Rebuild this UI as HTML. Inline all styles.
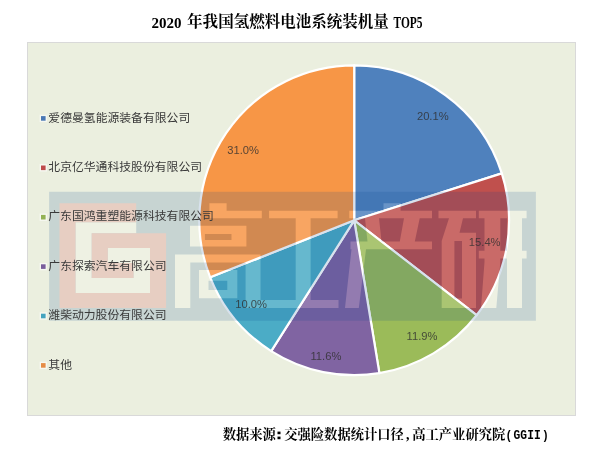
<!DOCTYPE html>
<html lang="zh"><head><meta charset="utf-8"><title>2020年我国氢燃料电池系统装机量TOP5</title>
<style>
html,body{margin:0;padding:0;background:#fff}
body{width:602px;height:456px;position:relative;overflow:hidden;font-family:"Liberation Sans",sans-serif}
</style></head><body>
<svg width="602" height="456" viewBox="0 0 602 456" style="position:absolute;left:0;top:0;will-change:transform"><rect x="27.5" y="42.5" width="548.0" height="373.0" fill="#EBEFDF" stroke="#D9D9D9" stroke-width="1"/>
<g stroke="#fff" stroke-width="2.2" stroke-linejoin="round"><path d="M354.20 220.30L354.20 65.40A154.90 154.90 0 0 1 501.82 173.36Z" fill="#4F81BD"/><path d="M354.20 220.30L501.82 173.36A154.90 154.90 0 0 1 476.60 315.24Z" fill="#C0504D"/><path d="M354.20 220.30L476.60 315.24A154.90 154.90 0 0 1 379.39 373.14Z" fill="#9BBB59"/><path d="M354.20 220.30L379.39 373.14A154.90 154.90 0 0 1 271.20 351.09Z" fill="#8064A2"/><path d="M354.20 220.30L271.20 351.09A154.90 154.90 0 0 1 210.18 277.32Z" fill="#4BACC6"/><path d="M354.20 220.30L210.18 277.32A154.90 154.90 0 0 1 354.20 65.40Z" fill="#F79646"/></g>
<g opacity="0.150"><path d="M49.1 191.7H535.9V320.8H49.1Z" fill="#02428F"/><path d="M75.5 222.2H136.2V233.2H75.5ZM75.5 222.2H91.7V293.0H75.5ZM75.5 278.0H150.0V293.0H75.5ZM133.5 263.1H150.0V293.0H133.5ZM107.8 248.1H150.0V263.1H107.8ZM209.4 203.3H226.6V210.8H209.4ZM209.4 210.8H261.8V218.3H209.4ZM269.1 210.8H337.6V218.3H269.1ZM295.7 218.3H310.6V299.9H295.7ZM260.4 299.9H338.5V307.9H260.4ZM383.5 203.3H400.6V210.8H383.5ZM349.3 210.8H432.0V218.3H349.3ZM365.0 218.3L379.0 218.3L381.5 241.5L367.5 241.5ZM404.0 218.3L419.7 218.3L414.8 241.5L399.8 241.5ZM350.5 241.5H432.0V249.3H350.5ZM351.5 249.3L366.0 249.3L358.8 307.9L345.0 307.9ZM438.5 210.8H476.0V218.3H438.5ZM478.8 210.8H526.6V218.3H478.8ZM449.0 218.3L463.0 218.3L457.5 241.0L454.4 241.0L454.4 307.9L441.7 307.9L441.7 241.0ZM454.4 232.8H476.0V240.9H454.4ZM462.0 240.9H476.0V307.9H462.0ZM454.4 298.5H462.0V307.9H454.4ZM478.8 250.7H526.6V258.6H478.8ZM484.5 218.3L500.3 218.3L500.3 262.0L496.3 307.9L481.0 307.9L484.5 262.0ZM507.0 218.3H522.0V307.9H507.0Z" fill="#FFFFFF"/><path d="M190.0 225.7H246.4V246.5H190.0ZM204.9 234.0H231.5V239.9H204.9ZM175.0 254.6H260.5V307.9H175.0ZM190.3 262.4H245.6V307.9H190.3ZM199.0 269.9H237.3V298.2H199.0ZM208.5 280.7H227.3V289.9H208.5Z" fill="#FFFFFF" fill-rule="evenodd"/><path d="M59.5 203.3H136.2V222.2H59.5ZM59.5 203.3H75.5V307.9H59.5ZM59.5 293.0H166.1V307.9H59.5ZM150.0 233.2H166.1V307.9H150.0ZM91.7 233.2H166.1V248.1H91.7ZM91.7 233.2H107.8V278.0H91.7ZM91.7 263.1H133.5V278.0H91.7Z" fill="#D71A24"/></g>
<g font-family="Liberation Sans, sans-serif" font-size="11.2" fill="#303030" fill-opacity="0.8" text-anchor="middle"><text x="432.8" y="120.0">20.1%</text><text x="484.7" y="245.9">15.4%</text><text x="422.0" y="340.0">11.9%</text><text x="325.9" y="359.9">11.6%</text><text x="251.1" y="307.6">10.0%</text><text x="243.1" y="153.8">31.0%</text></g>
<rect x="39.6" y="114.7" width="7.4" height="7.4" fill="#fff" fill-opacity="0.55"/>
<rect x="41.0" y="116.1" width="4.6" height="4.6" fill="#4A78B4"/>
<text x="48.3" y="121.6" font-family="'Liberation Sans', 'Noto Sans CJK SC', sans-serif" font-size="11.8" textLength="142.0" lengthAdjust="spacingAndGlyphs" fill="#3a3a3a">爱德曼氢能源装备有限公司</text>
<rect x="39.6" y="164.1" width="7.4" height="7.4" fill="#fff" fill-opacity="0.55"/>
<rect x="41.0" y="165.5" width="4.6" height="4.6" fill="#BE4B4B"/>
<text x="48.3" y="171.0" font-family="'Liberation Sans', 'Noto Sans CJK SC', sans-serif" font-size="11.8" textLength="153.8" lengthAdjust="spacingAndGlyphs" fill="#3a3a3a">北京亿华通科技股份有限公司</text>
<rect x="39.6" y="213.5" width="7.4" height="7.4" fill="#fff" fill-opacity="0.55"/>
<rect x="41.0" y="214.9" width="4.6" height="4.6" fill="#93B255"/>
<text x="48.3" y="220.4" font-family="'Liberation Sans', 'Noto Sans CJK SC', sans-serif" font-size="11.8" textLength="165.6" lengthAdjust="spacingAndGlyphs" fill="#3a3a3a">广东国鸿重塑能源科技有限公司</text>
<rect x="39.6" y="262.9" width="7.4" height="7.4" fill="#fff" fill-opacity="0.55"/>
<rect x="41.0" y="264.3" width="4.6" height="4.6" fill="#7A5E9C"/>
<text x="48.3" y="269.8" font-family="'Liberation Sans', 'Noto Sans CJK SC', sans-serif" font-size="11.8" textLength="118.3" lengthAdjust="spacingAndGlyphs" fill="#3a3a3a">广东探索汽车有限公司</text>
<rect x="39.6" y="312.3" width="7.4" height="7.4" fill="#fff" fill-opacity="0.55"/>
<rect x="41.0" y="313.7" width="4.6" height="4.6" fill="#45A3BE"/>
<text x="48.3" y="319.2" font-family="'Liberation Sans', 'Noto Sans CJK SC', sans-serif" font-size="11.8" textLength="118.3" lengthAdjust="spacingAndGlyphs" fill="#3a3a3a">潍柴动力股份有限公司</text>
<rect x="39.6" y="361.7" width="7.4" height="7.4" fill="#fff" fill-opacity="0.55"/>
<rect x="41.0" y="363.1" width="4.6" height="4.6" fill="#E58C46"/>
<text x="48.3" y="368.6" font-family="'Liberation Sans', 'Noto Sans CJK SC', sans-serif" font-size="11.8" textLength="23.7" lengthAdjust="spacingAndGlyphs" fill="#3a3a3a">其他</text>
<text x="151.6" y="27.8" font-family="Liberation Serif, serif" font-weight="bold" font-size="15" fill="#000">2020</text>
<text x="187.1" y="27.4" font-family="'Liberation Serif', 'Noto Serif CJK SC', serif" font-weight="bold" font-size="15.5" textLength="201.8" lengthAdjust="spacingAndGlyphs" fill="#000">年我国氢燃料电池系统装机量</text>
<text x="393.5" y="27.9" font-family="Liberation Serif, serif" font-weight="bold" font-size="17" fill="#000" textLength="29" lengthAdjust="spacingAndGlyphs">TOP5</text>
<text x="222.7" y="438.6" font-family="'Liberation Serif', 'Noto Serif CJK SC', serif" font-weight="bold" font-size="13.3" textLength="53.2" lengthAdjust="spacingAndGlyphs" fill="#000">数据来源</text>
<rect x="277.5" y="431.6" width="3" height="2.6" fill="#000"/><rect x="277.5" y="436.6" width="3" height="2.6" fill="#000"/>
<text x="284.2" y="438.6" font-family="'Liberation Serif', 'Noto Serif CJK SC', serif" font-weight="bold" font-size="13.3" textLength="119.7" lengthAdjust="spacingAndGlyphs" fill="#000">交强险数据统计口径</text>
<text x="406.1" y="438.6" font-family="Liberation Serif, serif" font-weight="bold" font-size="14" fill="#000">,</text>
<text x="412.2" y="438.6" font-family="'Liberation Serif', 'Noto Serif CJK SC', serif" font-weight="bold" font-size="13.3" textLength="93.1" lengthAdjust="spacingAndGlyphs" fill="#000">高工产业研究院</text>
<text transform="scale(0.9 1)" x="565.44 574.44 581.89 589.67 597.00 606.00" y="439.0" font-family="Liberation Mono, monospace" font-weight="bold" font-size="12.5" fill="#000" text-anchor="middle">(GGII)</text></svg>
</body></html>
